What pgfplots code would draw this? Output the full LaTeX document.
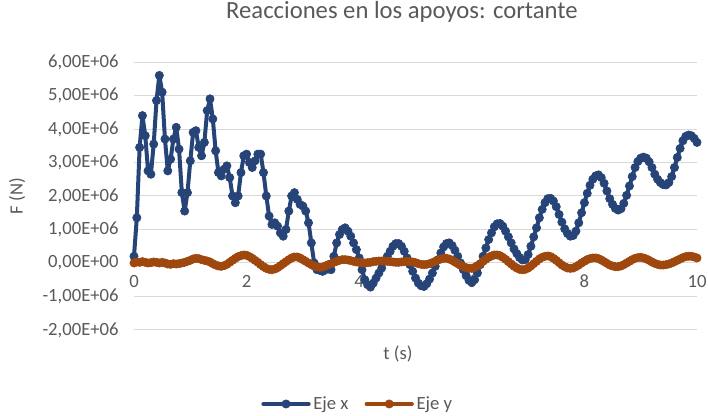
\documentclass[border=0pt]{standalone}
\usepackage{fontspec}
\setmainfont{Carlito}
\usepackage{pgfplots}
\usepackage{pgfplotstable}
\pgfplotsset{compat=1.18}
\definecolor{ejex}{RGB}{38,68,120}
\definecolor{ejey}{RGB}{158,72,14}
\definecolor{gridc}{RGB}{217,217,217}
\definecolor{txt}{RGB}{89,89,89}

\pgfplotstableread{
t F
0.00 0.20
0.05 1.35
0.10 3.45
0.15 4.40
0.20 3.80
0.25 2.75
0.30 2.65
0.35 3.55
0.40 4.85
0.45 5.60
0.50 5.10
0.55 3.70
0.60 2.75
0.65 3.10
0.70 3.70
0.75 4.05
0.80 3.40
0.85 2.10
0.90 1.55
0.95 2.10
1.00 3.05
1.05 3.90
1.10 3.95
1.15 3.45
1.20 3.20
1.25 3.60
1.30 4.55
1.35 4.90
1.40 4.30
1.45 3.35
1.50 2.70
1.55 2.60
1.60 2.80
1.65 2.90
1.70 2.55
1.75 2.00
1.80 1.80
1.85 2.00
1.90 2.70
1.95 3.20
2.00 3.25
2.05 3.00
2.10 2.85
2.15 3.05
2.20 3.25
2.25 3.25
2.30 2.70
2.35 2.00
2.40 1.40
2.45 1.15
2.50 1.20
2.55 1.10
2.60 0.90
2.65 0.80
2.70 1.00
2.75 1.55
2.80 2.00
2.85 2.10
2.90 1.90
2.95 1.75
3.00 1.70
3.05 1.55
3.10 1.20
3.15 0.60
3.20 0.00
3.25 -0.20
3.30 -0.22
3.35 -0.25
3.40 -0.20
3.45 -0.18
3.50 -0.20
3.55 0.20
3.60 0.60
3.65 0.85
3.70 1.00
3.75 1.05
3.80 0.95
3.85 0.80
3.90 0.60
3.95 0.40
4.00 0.15
4.05 -0.20
4.10 -0.50
4.15 -0.65
4.20 -0.72
4.25 -0.60
4.30 -0.45
4.35 -0.30
4.40 -0.15
4.45 0.05
4.50 0.20
4.55 0.35
4.60 0.50
4.65 0.58
4.70 0.58
4.75 0.50
4.80 0.35
4.85 0.15
4.90 -0.05
4.95 -0.25
5.00 -0.45
5.05 -0.60
5.10 -0.68
5.15 -0.70
5.20 -0.62
5.25 -0.48
5.30 -0.30
5.35 -0.10
5.40 0.10
5.45 0.30
5.50 0.48
5.55 0.58
5.60 0.60
5.65 0.52
5.70 0.38
5.75 0.20
5.80 0.00
5.85 -0.20
5.90 -0.38
5.95 -0.52
6.00 -0.57
6.05 -0.50
6.10 -0.30
6.15 -0.05
6.20 0.20
6.25 0.45
6.30 0.70
6.35 0.90
6.40 1.08
6.45 1.17
6.50 1.18
6.55 1.10
6.60 0.95
6.65 0.78
6.70 0.60
6.75 0.42
6.80 0.28
6.85 0.16
6.90 0.09
6.95 0.10
7.00 0.25
7.05 0.50
7.10 0.78
7.15 1.05
7.20 1.35
7.25 1.60
7.30 1.80
7.35 1.92
7.40 1.93
7.45 1.85
7.50 1.68
7.55 1.45
7.60 1.22
7.65 1.02
7.70 0.88
7.75 0.80
7.80 0.82
7.85 0.95
7.90 1.20
7.95 1.50
8.00 1.80
8.05 2.08
8.10 2.32
8.15 2.50
8.20 2.60
8.25 2.63
8.30 2.55
8.35 2.38
8.40 2.15
8.45 1.92
8.50 1.75
8.55 1.63
8.60 1.58
8.65 1.62
8.70 1.78
8.75 2.02
8.80 2.30
8.85 2.58
8.90 2.85
8.95 3.03
9.00 3.13
9.05 3.16
9.10 3.13
9.15 3.02
9.20 2.85
9.25 2.65
9.30 2.50
9.35 2.40
9.40 2.34
9.45 2.33
9.50 2.40
9.55 2.58
9.60 2.85
9.65 3.15
9.70 3.42
9.75 3.65
9.80 3.78
9.85 3.82
9.90 3.80
9.95 3.72
10.00 3.60
}\ejextable

\pgfplotstableread{
t F
0.00 0.00
0.05 0.03
0.10 0.02
0.15 0.04
0.20 0.02
0.25 0.00
0.30 0.01
0.35 0.03
0.40 0.02
0.45 0.00
0.50 0.02
0.55 0.00
0.60 -0.03
0.65 -0.04
0.70 -0.02
0.75 -0.03
0.80 -0.02
0.85 0.00
0.90 0.02
0.95 0.05
1.00 0.08
1.05 0.12
1.10 0.14
1.15 0.13
1.20 0.10
1.25 0.08
1.30 0.06
1.35 0.03
1.40 -0.02
1.45 -0.06
1.50 -0.09
1.55 -0.10
1.60 -0.08
1.65 -0.04
1.70 0.02
1.75 0.08
1.80 0.14
1.85 0.19
1.90 0.22
1.95 0.24
2.00 0.23
2.05 0.19
2.10 0.14
2.15 0.08
2.20 0.02
2.25 -0.05
2.30 -0.11
2.35 -0.16
2.40 -0.19
2.45 -0.20
2.50 -0.18
2.55 -0.14
2.60 -0.08
2.65 -0.02
2.70 0.04
2.75 0.10
2.80 0.15
2.85 0.18
2.90 0.18
2.95 0.15
3.00 0.10
3.05 0.05
3.10 0.00
3.15 -0.05
3.20 -0.09
3.25 -0.12
3.30 -0.13
3.35 -0.12
3.40 -0.09
3.45 -0.05
3.50 -0.02
3.55 0.02
3.60 0.05
3.65 0.08
3.70 0.10
3.75 0.10
3.80 0.09
3.85 0.07
3.90 0.05
3.95 0.03
4.00 0.02
4.05 0.01
4.10 0.00
4.15 0.01
4.20 0.02
4.25 0.04
4.30 0.05
4.35 0.06
4.40 0.06
4.45 0.06
4.50 0.05
4.55 0.04
4.60 0.03
4.65 0.02
4.70 0.02
4.75 0.03
4.80 0.04
4.85 0.05
4.90 0.04
4.95 0.03
5.00 0.01
5.05 -0.02
5.10 -0.04
5.15 -0.05
5.20 -0.04
5.25 -0.02
5.30 0.01
5.35 0.05
5.40 0.09
5.45 0.12
5.50 0.14
5.55 0.14
5.60 0.12
5.65 0.08
5.70 0.03
5.75 -0.02
5.80 -0.07
5.85 -0.11
5.90 -0.14
5.95 -0.16
6.00 -0.16
6.05 -0.13
6.10 -0.08
6.15 -0.02
6.20 0.05
6.25 0.11
6.30 0.17
6.35 0.21
6.40 0.24
6.45 0.24
6.50 0.22
6.55 0.17
6.60 0.11
6.65 0.04
6.70 -0.03
6.75 -0.10
6.80 -0.15
6.85 -0.19
6.90 -0.20
6.95 -0.19
7.00 -0.15
7.05 -0.09
7.10 -0.02
7.15 0.05
7.20 0.12
7.25 0.17
7.30 0.20
7.35 0.21
7.40 0.19
7.45 0.14
7.50 0.08
7.55 0.01
7.60 -0.06
7.65 -0.11
7.70 -0.15
7.75 -0.16
7.80 -0.15
7.85 -0.11
7.90 -0.06
7.95 0.00
8.00 0.05
8.05 0.10
8.10 0.13
8.15 0.15
8.20 0.15
8.25 0.13
8.30 0.09
8.35 0.04
8.40 -0.01
8.45 -0.06
8.50 -0.09
8.55 -0.11
8.60 -0.11
8.65 -0.09
8.70 -0.05
8.75 0.00
8.80 0.05
8.85 0.10
8.90 0.14
8.95 0.16
9.00 0.17
9.05 0.15
9.10 0.12
9.15 0.08
9.20 0.03
9.25 -0.01
9.30 -0.04
9.35 -0.06
9.40 -0.06
9.45 -0.05
9.50 -0.03
9.55 0.00
9.60 0.04
9.65 0.08
9.70 0.12
9.75 0.16
9.80 0.19
9.85 0.20
9.90 0.20
9.95 0.18
10.00 0.15
}\ejeytable

\begin{document}
\begin{tikzpicture}
\path[use as bounding box] (-100.5pt,-64.5pt) rectangle (430.5pt,247.5pt);
\begin{axis}[
  at={(0pt,0pt)}, anchor=south west,
  scale only axis,
  width=422.25pt, height=201pt,
  xmin=0, xmax=10, ymin=-2, ymax=6,
  xtick={0,2,4,6,8,10},
  ytick={-2,-1,0,1,2,3,4,5,6},
  yticklabels={{-2,00E+06},{-1,00E+06},{0,00E+00},{1,00E+06},{2,00E+06},{3,00E+06},{4,00E+06},{5,00E+06},{6,00E+06}},
  /pgf/number format/assume math mode=true,
  axis x line=middle,
  axis y line=left,
  hide obscured x ticks=false,
  axis line style={-, draw=gridc, line width=0.75pt},
  y axis line style={draw=none},
  major tick length=0pt,
  ymajorgrids,
  grid style={draw=gridc, line width=0.75pt},
  tick label style={font=\fontsize{14}{16}\selectfont, text=txt},
  xticklabel style={anchor=north, yshift=-5.5pt},
  yticklabel style={anchor=east, xshift=-8pt},
  xlabel={t (s)},
  ylabel={F (N)},
  label style={font=\fontsize{14}{16}\selectfont, text=txt},
  xlabel style={at={(axis description cs:0.469,0)}, anchor=north, yshift=-8pt},
  ylabel style={at={(axis description cs:-0.185,0.5)}, anchor=south},
  title={Reacciones en los apoyos: cortante},
  title style={at={(axis description cs:0.476,1.157)}, anchor=center, font=\fontsize{18.5}{22}\selectfont, text=txt},
  legend style={at={(axis description cs:0.398,-0.276)}, anchor=center, draw=none, fill=none,
    font=\fontsize{14}{16}\selectfont, text=txt, legend columns=2,
    /tikz/every even column/.append style={column sep=10pt}},
  legend image code/.code={\draw[mark repeat=2,mark phase=2] plot coordinates {(0pt,0pt) (17pt,0pt) (34pt,0pt)};},
  clip=false,
]
\addplot[color=ejex, line width=3pt, line join=round, line cap=round, mark=*, mark size=3.1pt, mark options={line width=0.5pt}] table[x=t,y=F] {\ejextable};
\addlegendentry{Eje x}
\addplot[color=ejey, line width=3pt, line join=round, line cap=round, mark=*, mark size=3.1pt, mark options={line width=0.5pt}] table[x=t,y=F] {\ejeytable};
\addlegendentry{Eje y}
\end{axis}
\end{tikzpicture}
\end{document}
